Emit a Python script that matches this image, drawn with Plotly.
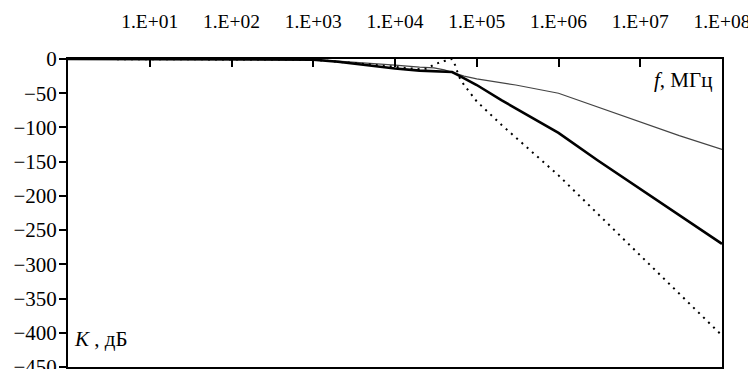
import plotly.graph_objects as go

# ---- data (frequency, gain in dB) ----
thin_f = [1, 1e3, 2e3, 5e3, 1e4, 2e4, 3e4, 4e4, 5e4, 7e4, 1e5, 3e5, 1e6, 3e6, 1e7, 3e7, 1e8]
thin_k = [0, -1, -3, -6, -9, -12, -13, -16, -20, -25, -29, -38, -50, -70, -92, -112, -132]

thick_f = [1, 1e3, 2e3, 5e3, 1e4, 2e4, 3e4, 4e4, 5e4, 6e4, 1e5, 2e5, 5e5, 1e6, 3e6, 1e7, 3e7, 1e8]
thick_k = [0, -1, -4, -10, -14, -17, -18, -18.5, -19, -24, -38, -60, -88, -108, -148, -190, -228, -270]

dot_f = [1, 1e3, 5e3, 1e4, 2e4, 2.5e4, 3e4, 4e4, 5e4, 5.5e4, 6e4, 7e4, 1e5, 2e5, 1e6, 1e7, 1e8]
dot_k = [0, -1, -8, -12, -15, -14, -8, -3, 0, -10, -25, -38, -62, -96, -170, -287, -404]

x_tickvals = [1e1, 1e2, 1e3, 1e4, 1e5, 1e6, 1e7, 1e8]
x_ticktext = ["1.E+01", "1.E+02", "1.E+03", "1.E+04", "1.E+05", "1.E+06", "1.E+07", "1.E+08"]
y_tickvals = [0, -50, -100, -150, -200, -250, -300, -350, -400, -450]

FONT = "Liberation Serif"
FS = 21
# the page body adds an 8px offset, so the figure is drawn 8px smaller
OFF = 8
W, H = 756 - OFF, 369 - OFF
L, R, T, B = 68 - OFF, 722 - OFF, 59 - OFF, 367 - OFF

fig = go.Figure()
fig.add_trace(go.Scatter(x=thin_f, y=thin_k, mode="lines",
                         line=dict(color="#444444", width=1.2), showlegend=False))
fig.add_trace(go.Scatter(x=thick_f, y=thick_k, mode="lines",
                         line=dict(color="black", width=2.6), showlegend=False))
fig.add_trace(go.Scatter(x=dot_f, y=dot_k, mode="lines",
                         line=dict(color="black", width=2, dash="2px,5px"), showlegend=False))

def px(x):
    return (x - OFF - L) / (R - L)

def py(y):
    return (B - (y - OFF)) / (B - T)

fig.add_annotation(text="<i>f</i>, МГц", xref="paper", yref="paper",
                   x=px(714), y=py(80), xanchor="right", yanchor="middle",
                   showarrow=False, font=dict(family=FONT, size=FS, color="black"))
fig.add_annotation(text="<i>K</i> , дБ", xref="paper", yref="paper",
                   x=px(72), y=py(339), xanchor="left", yanchor="middle",
                   showarrow=False, font=dict(family=FONT, size=FS, color="black"))

fig.update_layout(
    width=W, height=H,
    margin=dict(l=L, r=W - R, t=T, b=H - B, pad=0, autoexpand=False),
    paper_bgcolor="white", plot_bgcolor="white",
    font=dict(family=FONT, size=FS, color="black"),
    xaxis=dict(type="log", range=[0, 8], side="top", automargin=False,
               tickvals=x_tickvals, ticktext=x_ticktext,
               tickfont=dict(family=FONT, size=19.5, color="black"),
               ticks="inside", ticklen=8, tickwidth=1.5, tickcolor="black",
               ticklabelstandoff=21, ticklabeloverflow="allow",
               showline=True, linecolor="black", linewidth=2, mirror=True,
               showgrid=False, zeroline=False),
    yaxis=dict(range=[-450, 0], tickvals=y_tickvals, automargin=False,
               ticks="outside", ticklen=7, tickwidth=1.5, tickcolor="black",
               ticklabelstandoff=-2, ticklabeloverflow="allow",
               showline=True, linecolor="black", linewidth=2, mirror=True,
               showgrid=False, zeroline=False),
)

fig.write_html("out.html")
